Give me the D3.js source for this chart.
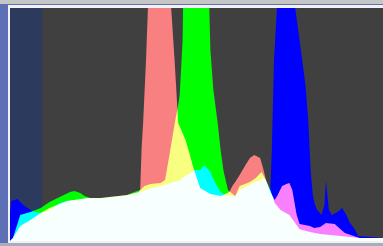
<!DOCTYPE html>
<html>
<head>
<meta charset="utf-8">
<script src="https://cdn.jsdelivr.net/npm/d3@7"></script>
<style>
  html, body { margin: 0; padding: 0; background: #5d70b6; overflow: hidden; }
  svg { display: block; }
</style>
</head>
<body>
<div id="chart"></div>
<script>
// histogram levels per channel, [bin, percent of peak]
// values above 100 run off the top of the plot
const redLevels = [
  [0, 0], [2, 1.3], [7, 6.4], [14, 9], [21, 12], [27, 14.2], [39, 17.2], [53, 18.5],
  [62, 18.5], [80, 19.7], [88, 21], [89, 22], [90, 40], [91, 50.6], [93, 77.7], [94.3, 100],
  [95, 130], [109.5, 130], [110.2, 100], [112.5, 77.7], [115, 50.6], [120, 43.3], [123, 36.9],
  [125, 32.2], [127, 28.3], [130, 22.7], [137, 20.2], [144, 19.3], [150, 21], [152, 23.6],
  [154, 25.3], [157, 28.3], [161, 32.6], [164, 35.6], [167, 36.9], [171, 35.6], [173, 31.3],
  [175, 26.2], [178, 21], [181, 17.6], [183, 19.7], [186, 23.6], [189, 24.5], [191, 24.9],
  [193, 21.9], [196, 11.2], [198, 7.3], [205, 6.4], [208, 5.6], [212, 6], [216, 7.7],
  [222, 7.3], [226, 5], [229, 3.4], [239, 1.3], [255, 1.3]
]
const greenLevels = [
  [0, 0], [2, 1.3], [7, 11.2], [14, 12.4], [21, 14.2], [27, 16.7], [34, 18.9], [41, 21],
  [44, 21.5], [48, 20.6], [51, 19.3], [55, 18.5], [62, 18.5], [80, 19.7], [85, 21], [89, 21.9],
  [92, 23.6], [96, 24.5], [103, 24.9], [106, 26.2], [109, 36.9], [113, 51.9], [115, 58.4],
  [116, 62.7], [118, 86], [119, 130], [135, 130], [137, 82], [139, 65], [142, 50.6],
  [144, 39], [146, 30], [149, 21.9], [154, 19.3], [157, 23.6], [164, 25.3], [168, 27],
  [170, 28.3], [172, 29.6], [175, 26.2], [178, 21.9], [181, 16.3], [185, 13.3], [191, 11.2],
  [198, 5], [205, 3.9], [212, 3], [226, 2.1], [239, 1.3], [255, 1.3]
]
const blueLevels = [
  [0, 12], [1, 17.2], [5, 18], [7, 16.7], [9, 15.5], [12, 14.2], [14, 13.3], [17, 12.4],
  [21, 12], [24, 12.4], [27, 13.3], [31, 15], [34, 16.3], [39, 17.2], [53, 18.3], [62, 18.3],
  [80, 19.5], [89, 21], [96, 22.5], [103, 23.5], [110, 25], [116, 26], [120, 28], [123, 29],
  [125, 30], [127, 30.5], [130, 30.5], [133, 32.6], [137, 29.6], [140, 25.3], [144, 21],
  [147, 19.7], [150, 19.5], [154, 19], [157, 22], [164, 24], [168, 25.5], [171, 26], [173, 27],
  [175, 26], [178, 21.9], [179, 39], [180.5, 77.7], [182.5, 100], [183, 130], [194.5, 130],
  [195, 100], [198, 86], [202, 67], [204, 50.6], [205.5, 30.5], [207, 19.7], [208.5, 15.5],
  [210, 13.3], [213, 11.2], [215, 15.5], [216, 26], [218, 13.3], [220, 11.2], [224, 12.4],
  [227, 14.2], [230, 11.2], [232, 8.2], [236, 4.7], [238, 2.1], [255, 1.3]
]
const channels = ["red", "green", "blue"]
const channelColors = ["#f88080", "#00ff00", "#0000ff"]
const shadowRange = [0, 22]

const width = 383, height = 246
const plot = { left: 10, top: 8, right: 383, bottom: 241 }

const svg = d3.select("#chart").append("svg")
  .attr("width", width)
  .attr("height", height)

// window frame
svg.append("rect").attr("width", width).attr("height", height).attr("fill", "#5d70b6")
svg.append("rect").attr("width", width).attr("height", 4).attr("fill", "#c6c6c6")
svg.append("rect").attr("y", 243).attr("width", width).attr("height", 3).attr("fill", "#a9acbc")
svg.append("rect")
  .attr("x", plot.left - 2).attr("y", plot.top - 3)
  .attr("width", width - plot.left + 2).attr("height", plot.bottom - plot.top + 5)
  .attr("fill", "#f2f2f2")
svg.append("rect")
  .attr("x", plot.left).attr("y", plot.top)
  .attr("width", plot.right - plot.left).attr("height", plot.bottom - plot.top)
  .attr("fill", "#404040")

const x = d3.scaleLinear().domain([0, 255]).range([plot.left, plot.right])
const y = d3.scaleLinear().domain([0, 100]).range([plot.bottom, plot.top])

svg.append("clipPath").attr("id", "plotClip")
  .append("rect")
  .attr("x", plot.left).attr("y", plot.top)
  .attr("width", plot.right - plot.left).attr("height", plot.bottom - plot.top)

// shadow clipping band
svg.append("rect")
  .attr("x", x(shadowRange[0]))
  .attr("y", plot.top)
  .attr("width", x(shadowRange[1]) - x(shadowRange[0]))
  .attr("height", plot.bottom - plot.top)
  .attr("fill", "#2c3a5e")

const area = d3.area()
  .x(d => x(d[0]))
  .y0(y(0))
  .y1(d => y(d[1]))

// channels are screened together, overlaps give yellow, cyan, pink and white
const hist = svg.append("g")
  .attr("clip-path", "url(#plotClip)")
  .style("isolation", "isolate")

hist.selectAll("path")
  .data([redLevels, greenLevels, blueLevels])
  .join("path")
  .attr("class", (d, i) => "channel " + channels[i])
  .attr("d", area)
  .attr("fill", (d, i) => channelColors[i])
  .style("mix-blend-mode", "screen")
</script>
</body>
</html>
